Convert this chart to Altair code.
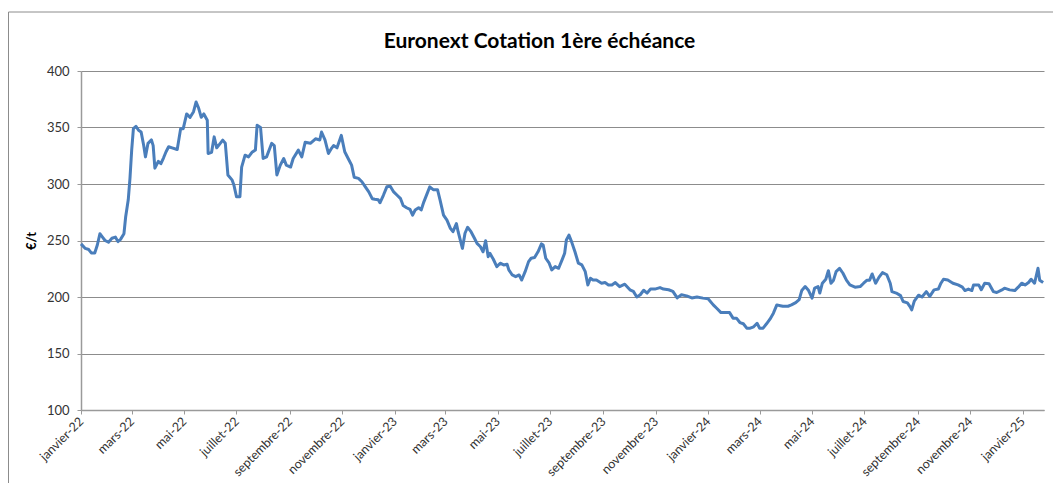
import json
import altair as alt
import pandas as pd

TITLE = "Euronext Cotation 1ère échéance"
Y_TITLE = "€/t"
MONTHS_FR = ["janvier", "février", "mars", "avril", "mai", "juin", "juillet",
             "août", "septembre", "octobre", "novembre", "décembre"]
TICK_MONTHS = [(2022, 1), (2022, 3), (2022, 5), (2022, 7), (2022, 9), (2022, 11),
               (2023, 1), (2023, 3), (2023, 5), (2023, 7), (2023, 9), (2023, 11),
               (2024, 1), (2024, 3), (2024, 5), (2024, 7), (2024, 9), (2024, 11),
               (2025, 1)]
Y_TICKS = [100, 150, 200, 250, 300, 350, 400]
START = "2022-01-01"

# observation dates, as days since 1 January 2022
DAYS = [0, 5, 9, 12, 16, 19, 22, 25, 28, 32, 36, 40, 43, 46, 50, 52, 55, 57, 59, 61,
        64, 67, 70, 73, 75, 78, 82, 84, 86, 90, 93, 96, 99, 102, 106, 112, 116, 119, 123, 127,
        131, 134, 137, 140, 143, 147, 148, 152, 155, 158, 165, 168, 171, 176, 178, 181, 185, 187, 191, 195,
        199, 203, 205, 209, 212, 216, 222, 225, 228, 232, 236, 239, 244, 247, 253, 257, 261, 267, 273, 278,
        280, 284, 288, 292, 294, 298, 303, 307, 311, 315, 318, 323, 327, 331, 335, 339, 342, 346, 348, 352,
        356, 360, 364, 368, 372, 375, 379, 383, 386, 389, 393, 396, 399, 403, 406, 410, 415, 418, 422, 426,
        430, 433, 437, 439, 444, 447, 450, 454, 458, 461, 465, 468, 471, 474, 476, 480, 484, 488, 492, 496,
        498, 502, 506, 510, 513, 517, 521, 524, 528, 532, 536, 538, 541, 545, 548, 552, 556, 560, 563, 565,
        568, 571, 575, 579, 583, 587, 590, 593, 596, 600, 606, 610, 614, 618, 622, 627, 633, 639, 643, 647,
        651, 655, 659, 663, 668, 674, 678, 684, 689, 694, 699, 705, 711, 717, 724, 730, 736, 740, 745, 750,
        755, 759, 763, 767, 771, 775, 779, 783, 787, 790, 794, 798, 802, 806, 810, 814, 817, 823, 827, 832,
        836, 839, 843, 847, 851, 854, 858, 860, 863, 867, 870, 873, 876, 879, 883, 887, 891, 895, 901, 907,
        911, 915, 918, 921, 925, 929, 933, 938, 942, 944, 949, 954, 957, 962, 965, 967, 970, 975, 979, 984,
        988, 993, 998, 1001, 1004, 1009, 1015, 1021, 1026, 1029, 1033, 1037, 1039, 1045, 1048, 1052, 1057, 1062, 1066, 1072,
        1075, 1081, 1087, 1091, 1095, 1099, 1103, 1106, 1110, 1114, 1116, 1120]

PRICES = [247, 243, 242, 239, 239, 246, 256, 253, 250, 248.5, 252, 253, 249, 251, 256, 271, 286, 305, 330, 349,
          351, 347.6, 346, 334, 324, 336, 339, 334, 314, 320, 318, 323, 328.5, 333, 332, 330.5, 349, 349, 362, 359,
          364, 372.6, 367, 359, 362, 356.5, 327, 328, 341.7, 332, 338.8, 336, 308, 303.4, 299, 288.7, 288.7, 315, 325.5, 324,
          328, 330, 352, 350, 322.6, 324, 336, 334, 308, 316.7, 322.6, 316.7, 315, 322.6, 330, 324, 337, 336, 340, 339,
          346, 339, 327, 332, 334, 332, 343, 328.5, 322.6, 316.7, 306, 305, 302, 297.5, 293, 287, 286.5, 286, 283.4, 290,
          297.5, 298, 293, 290, 287, 281, 279, 277.5, 272.5, 277, 279, 277, 284, 291.7, 297.5, 295, 295, 285.8, 272.5, 268,
          260.8, 257.8, 265, 257.8, 243, 256.4, 261.7, 257.8, 252, 247.5, 244.5, 240, 249.8, 235.7, 238.6, 233.4, 226.9, 229.9, 228.4, 229,
          224, 219.5, 218, 219.5, 215, 222.4, 231.3, 234.3, 235, 240, 247, 246, 234.3, 229.9, 224, 226.9, 225.4, 232.8, 238.7, 250.4,
          254.8, 249, 240, 229.9, 228.4, 222.4, 210.7, 216.6, 215, 215, 212.2, 212.8, 210.7, 210.7, 212.8, 209.2, 211.3, 206.4, 205, 200,
          202, 206, 203.5, 207, 207, 208.3, 207, 206.4, 205, 199.2, 202, 201, 199.2, 200, 199, 198.5, 193, 190, 186.2, 186.2,
          186.2, 181.3, 181.3, 177.4, 176.3, 172.4, 172.4, 173.6, 176.8, 172.4, 172.4, 176.3, 180.4, 185.7, 193, 192.3, 191.8, 191.8, 193, 195,
          197.6, 205.7, 209.2, 205.7, 199, 207.8, 209.2, 203.5, 212.2, 215.7, 223.3, 212.2, 214.9, 222.4, 225.4, 221, 214.9, 210.7, 208.7, 209.2,
          212.2, 214.9, 214.9, 220.4, 212.2, 217.6, 221.6, 219.7, 212.2, 204.8, 203.5, 201.2, 196, 194.8, 191.5, 188.6, 196.4, 201.6, 200, 204.8,
          200.5, 206.3, 207, 212.2, 215.7, 215, 212.2, 210.7, 208.7, 205.7, 207, 205.7, 210.7, 210.7, 206.4, 212.2, 211.7, 204.8, 204, 206.3,
          207.8, 206.3, 205.7, 208.7, 212.2, 210.7, 212.8, 215.7, 212.2, 225.4, 214.9, 212.8]

assert len(DAYS) == len(PRICES), (len(DAYS), len(PRICES))

dates = (pd.Timestamp(START) + pd.to_timedelta(DAYS, unit="D")).strftime("%Y-%m-%dT00:00:00")
df = pd.DataFrame({"date": list(dates), "prix": PRICES})

label_expr = (json.dumps(MONTHS_FR, ensure_ascii=False)
              + "[month(datum.value)] + '-' + timeFormat(datum.value, '%y')")

FONT = "Lato"
GRID = "#8c8c8c"
AXIS = "#9a9a9a"

line = alt.Chart(df).mark_line(color="#4a7ebb", strokeWidth=3, strokeJoin="round").encode(
    x=alt.X("date:T",
            scale=alt.Scale(domain=[alt.DateTime(year=2022, month=1, date=1),
                                    alt.DateTime(year=2025, month=1, date=26)]),
            axis=alt.Axis(values=[alt.DateTime(year=y, month=m, date=1) for y, m in TICK_MONTHS],
                          labelExpr=label_expr, labelAngle=-45, labelAlign="right",
                          labelBaseline="middle", labelPadding=5, labelFlush=False,
                          labelOverlap=False, grid=False, title=None, tickSize=4,
                          tickColor=AXIS, domainColor=AXIS, domainWidth=1.5,
                          labelFont=FONT, labelFontSize=12.5, labelColor="#333333")),
    y=alt.Y("prix:Q",
            scale=alt.Scale(domain=[100, 400], nice=False, zero=False),
            axis=alt.Axis(values=Y_TICKS, title=Y_TITLE, titleFont=FONT, titleFontSize=13,
                          titleFontWeight="bold", titleColor="#000000", titlePadding=8,
                          grid=True, gridColor=GRID, gridWidth=1, tickSize=4,
                          tickColor=AXIS, domainColor=AXIS, domainWidth=1.5,
                          labelFont=FONT, labelFontSize=13, labelColor="#333333",
                          labelPadding=8)),
)

frame_df = pd.DataFrame({"k": [0]})
frame_left = alt.Chart(frame_df).mark_rule(color="#8c8c8c", strokeWidth=1).encode(
    x=alt.value(-72.5), y=alt.value(-59), y2=alt.value(420))
frame_top = alt.Chart(frame_df).mark_rule(color="#8c8c8c", strokeWidth=1).encode(
    x=alt.value(-72.5), x2=alt.value(990), y=alt.value(-59))

chart = alt.layer(frame_left, frame_top, line).properties(
    width=963,
    height=339,
    title=alt.TitleParams(TITLE, font=FONT, fontSize=21, fontWeight="bold", color="#000000",
                          anchor="middle", dx=-23, dy=57, offset=0, baseline="alphabetic"),
    autosize=alt.AutoSizeParams(type="none"),
    padding={"left": 73, "top": 63, "right": 9, "bottom": 73},
).configure_view(stroke=None)

chart.save("out.html", embed_options={"renderer": "svg", "actions": False})
